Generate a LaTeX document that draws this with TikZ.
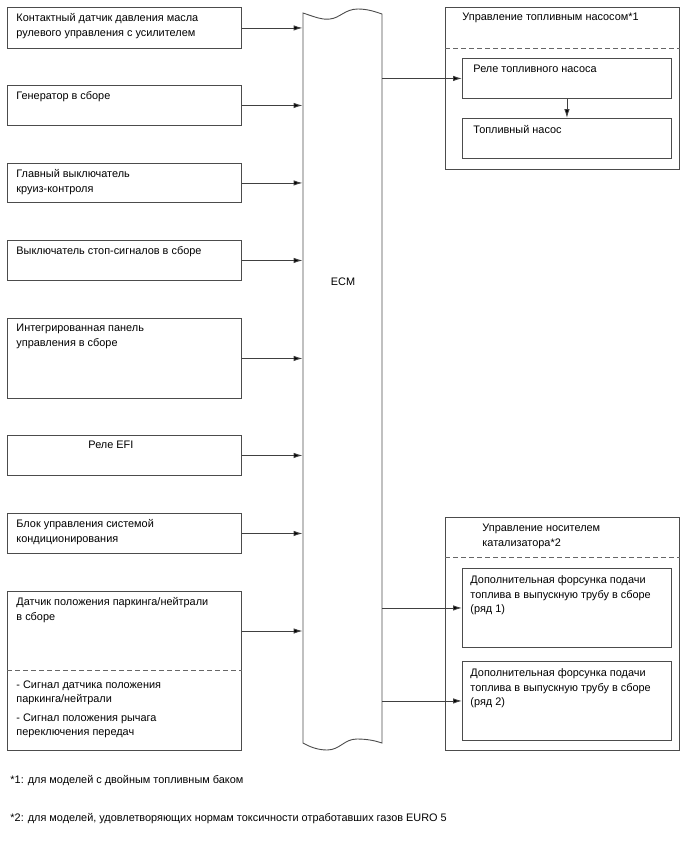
\documentclass[tikz,border=0pt]{standalone}
\usepackage{fontspec}
\setmainfont{Liberation Sans}
\usetikzlibrary{arrows.meta,positioning,calc}

\begin{document}
\begin{tikzpicture}[
  x=1pt,y=-1pt,
  >={Latex[length=9pt,width=5.5pt,fill=black]},
  line width=0.9pt,
  box/.style={draw=black!70,rectangle,inner sep=0pt,anchor=north west},
  txt/.style={anchor=north west,align=left,inner sep=0pt,font=\fontsize{10.9}{14.8}\selectfont},
  sig/.style={->,black!75},
  sep/.style={draw=black!60,dashed,dash pattern=on 5pt off 3pt}
]
\useasboundingbox (0,0) rectangle (688,852);

% ---- inputs (left column) ----
\node[box,minimum width=234pt,minimum height=41pt] (s1) at (7,7) {};
\node[box,minimum width=234pt,minimum height=40pt] (s2) at (7,85) {};
\node[box,minimum width=234pt,minimum height=39pt] (s3) at (7,163) {};
\node[box,minimum width=234pt,minimum height=40pt] (s4) at (7,240) {};
\node[box,minimum width=234pt,minimum height=80pt] (s5) at (7,318) {};
\node[box,minimum width=234pt,minimum height=40pt] (s6) at (7,435) {};
\node[box,minimum width=234pt,minimum height=40pt] (s7) at (7,513) {};
\node[box,minimum width=234pt,minimum height=159pt] (s8) at (7,591) {};
\draw[sep] (s8.west |- 0,670) -- (s8.east |- 0,670);

\node[txt] (t1) at (16,13) {Контактный датчик давления масла\\рулевого управления с усилителем};
\node[txt] (t2) at (16,91) {Генератор в сборе};
\node[txt] (t3) at (16,169) {Главный выключатель\\круиз-контроля};
\node[txt] (t4) at (16,246) {Выключатель стоп-сигналов в сборе};
\node[txt] (t5) at (16,324) {Интегрированная панель\\управления в сборе};
\node[txt] (t6) at (88,441) {Реле EFI};
\node[txt] (t7) at (16,519) {Блок управления системой\\кондиционирования};
\node[txt] (t8) at (16,597) {Датчик положения паркинга/нейтрали\\в сборе};
\node[txt] (t9) at (16,680) {- Сигнал датчика положения\\паркинга/нейтрали};
\node[txt] (t10) at (16,713) {- Сигнал положения рычага\\переключения передач};

% ---- ECM ----
\node[minimum width=79pt,minimum height=730pt,inner sep=0pt] (ecm) at (342.5,378) {};
\node[font=\fontsize{10.9}{12}\selectfont] (ecmlbl) at (343,282) {ECM};
\draw[black!70] (303,13) .. controls (315,17) and (322,20) .. (330,19)
  .. controls (340,18) and (345,9) .. (358,9)
  .. controls (368,9) and (376,12) .. (382,14)
  -- (382,743) .. controls (376,741) and (368,739) .. (357,739)
  .. controls (344,739) and (340,750) .. (327,750)
  .. controls (318,750) and (310,747) .. (303,743) -- cycle;

\foreach \s in {s1,s2,s3,s4,s5,s6,s7}
  \draw[sig] (\s.east) -- (ecm.west |- \s.east);
\draw[sig] (s8.east |- 0,631) -- (ecm.west |- 0,631);

% ---- fuel pump control ----
\node[box,minimum width=234pt,minimum height=162pt] (fpc) at (445,7) {};
\node[txt] (fpct) at (462,13) {Управление топливным насосом*1};
\draw[sep] (fpc.west |- 0,48) -- (fpc.east |- 0,48);
\node[box,minimum width=209pt,minimum height=40pt] (fpr) at (462,58) {};
\node[txt] (fprt) at (473,65) {Реле топливного насоса};
\node[box,minimum width=209pt,minimum height=40pt] (fpm) at (462,118) {};
\node[txt] (fpmt) at (473,125) {Топливный насос};
\draw[sig] (ecm.east |- fpr.west) -- (fpr.west);
\draw[sig] (fpr.south) -- (fpm.north);

% ---- catalyst control ----
\node[box,minimum width=234pt,minimum height=233pt] (cat) at (445,517) {};
\node[txt] (catt) at (482,524) {Управление носителем\\катализатора*2};
\draw[sep] (cat.west |- 0,557) -- (cat.east |- 0,557);
\node[box,minimum width=209pt,minimum height=79pt] (inj1) at (462,568) {};
\node[txt] (inj1t) at (470,575) {Дополнительная форсунка подачи\\топлива в выпускную трубу в сборе\\(ряд 1)};
\node[box,minimum width=209pt,minimum height=79pt] (inj2) at (462,661) {};
\node[txt] (inj2t) at (470,668) {Дополнительная форсунка подачи\\топлива в выпускную трубу в сборе\\(ряд 2)};
\draw[sig] (ecm.east |- inj1.west) -- (inj1.west);
\draw[sig] (ecm.east |- inj2.west) -- (inj2.west);

% ---- notes ----
\node[txt] (n1) at (10,775) {*1: для моделей с двойным топливным баком};
\node[txt] (n2) at (10,813) {*2: для моделей, удовлетворяющих нормам токсичности отработавших газов EURO 5};
\end{tikzpicture}
\end{document}
